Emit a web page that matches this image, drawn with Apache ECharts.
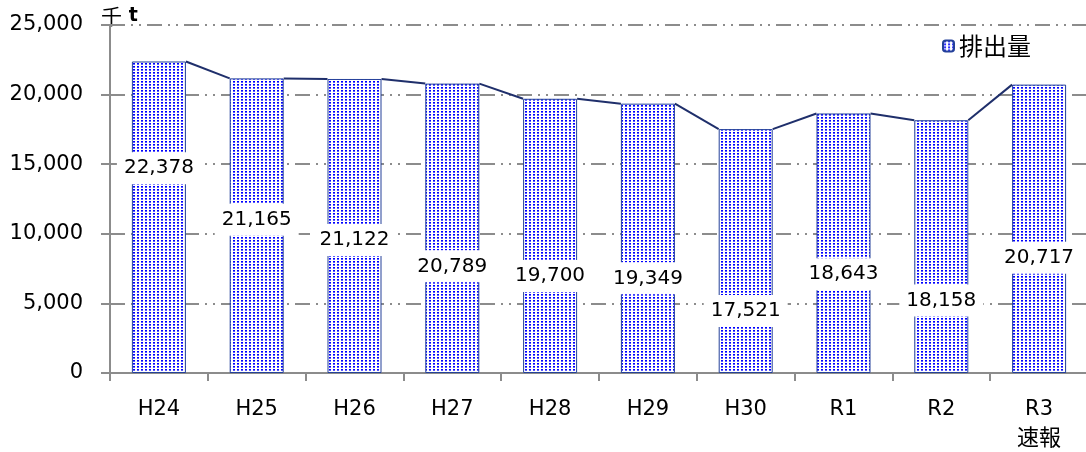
<!DOCTYPE html>
<html>
<head>
<meta charset="utf-8">
<script src="https://cdn.jsdelivr.net/npm/echarts@6/dist/echarts.min.js"></script>
<style>html,body{margin:0;padding:0;background:#fff}#c{width:1086px;height:452px}</style>
</head>
<body>
<div id="c"></div>
<script>
const categories = ['H24','H25','H26','H27','H28','H29','H30','R1','R2','R3\n速報'];
const emissions = [22378, 21165, 21122, 20789, 19700, 19349, 17521, 18643, 18158, 20717];
const yTicks = [0, 5000, 10000, 15000, 20000, 25000];
const labelShift = [-49, -6, 14, 38, 40, 40, 60, 31, 54, 29];

const FONT = '"DejaVu Sans", "Noto Sans CJK JP", sans-serif';
const JFONT = '"Noto Sans CJK JP", sans-serif';

const pc = document.createElement('canvas');
pc.width = 4; pc.height = 3;
const g = pc.getContext('2d');
g.fillStyle = '#ffffff'; g.fillRect(0,0,4,3);
g.fillStyle = '#0000ff';
g.fillRect(1,0,2,1);
g.fillStyle = '#5a5aff';
g.fillRect(1,1,2,1);
const pattern = {image: pc, repeat: 'repeat'};

const barHalf = 27;
const linkData = [];
for (let i = 0; i < emissions.length - 1; i++) linkData.push([i, emissions[i], emissions[i+1]]);

const chart = echarts.init(document.getElementById('c'), null, {renderer: 'canvas'});
chart.setOption({
  animation: false,
  textStyle: {fontFamily: FONT},
  grid: {left: 110, width: 978, top: 25, bottom: 79, containLabel: false, outerBoundsMode: 'none'},
  legend: {
    data: ['排出量'], right: 50, top: 29,
    itemWidth: 11, itemHeight: 11, itemGap: 7,
    textStyle: {fontSize: 24, color: '#000', fontFamily: JFONT}
  },
  graphic: [{type: 'text', left: 101, top: 6, style: {
    text: '{a|千}  {b|t}',
    rich: {a: {fontSize: 21, fontFamily: JFONT, fill: '#000'}, b: {fontSize: 19, fontWeight: 'bold', fontFamily: FONT, fill: '#000'}}
  }}],
  xAxis: {
    type: 'category', data: categories,
    axisLine: {lineStyle: {color: '#8c8c8c', width: 2}},
    axisTick: {show: true, length: 8, lineStyle: {color: '#8c8c8c', width: 2}},
    axisLabel: {
      color: '#000', margin: 24,
      formatter: v => {
        const parts = v.split('\n');
        return parts.map((p, k) => k === 0 ? '{a|' + p + '}' : '{b|' + p + '}').join('\n');
      },
      rich: {
        a: {fontSize: 21, fontFamily: FONT, color: '#000', lineHeight: 26},
        b: {fontSize: 22, fontFamily: JFONT, color: '#000', lineHeight: 28}
      }
    }
  },
  yAxis: {
    type: 'value', min: yTicks[0], max: yTicks[yTicks.length-1], interval: yTicks[1]-yTicks[0],
    axisLine: {show: true, lineStyle: {color: '#8c8c8c', width: 2}},
    axisTick: {show: true, length: 9, lineStyle: {color: '#8c8c8c', width: 2}},
    axisLabel: {fontSize: 21, color: '#000', margin: 27, fontFamily: FONT,
      formatter: v => v.toLocaleString('en-US')},
    splitLine: {show: true, lineStyle: {color: '#8c8c8c', width: 2, type: [15, 6, 2, 6, 2, 6]}}
  },
  series: [
    {
      name: '排出量', type: 'bar', barWidth: 54,
      itemStyle: {color: pattern, borderColor: '#24409a', borderWidth: 1},
      label: {show: true, position: 'inside', fontSize: 20, color: '#000', fontFamily: FONT,
        backgroundColor: '#fff', padding: [6, 7],
        formatter: p => p.value.toLocaleString('en-US')},
      data: emissions.map((v, i) => ({value: v, label: {offset: [0, labelShift[i]]}})),
      z: 2
    },
    {
      name: 'link', type: 'custom', data: linkData, z: 3,
      encode: {x: 0, y: [1, 2]},
      renderItem: (params, api) => {
        const i = api.value(0);
        const a = api.coord([i, api.value(1)]);
        const b = api.coord([i + 1, api.value(2)]);
        return {type: 'line', shape: {x1: a[0] + barHalf, y1: a[1], x2: b[0] - barHalf, y2: b[1]},
          style: {stroke: '#1f2f6b', lineWidth: 2}};
      }
    }
  ]
});
</script>
</body>
</html>
